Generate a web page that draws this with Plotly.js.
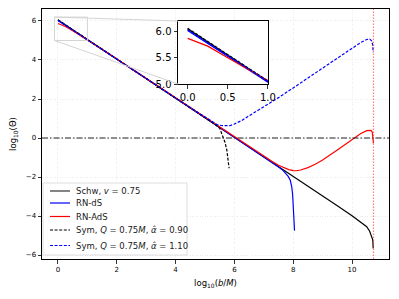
<!DOCTYPE html>
<html><head><meta charset="utf-8">
<script src="https://cdn.plot.ly/plotly-3.0.1.min.js"></script>
<style>html,body{margin:0;padding:0;background:#fff;}#chart{width:399px;height:299px;}</style>
</head><body><div id="chart"></div>
<script>
// ---- data ----
const schwX = [0, 0.5, 1, 2, 3, 4, 5, 6, 7, 8, 9, 9.5, 10, 10.3, 10.5, 10.6, 10.65, 10.68, 10.7, 10.71, 10.72];
const schwY = [6.05, 5.55, 5.05, 4.05, 3.05, 2.05, 1.05, 0.05, -0.95, -1.95, -2.96, -3.47, -3.99, -4.3, -4.55, -4.78, -4.96, -5.08, -5.2, -5.32, -5.66];

const rndsX = [0, 0.5, 1, 2, 3, 4, 5, 6, 7, 7.3, 7.5, 7.65, 7.75, 7.83, 7.9, 7.95, 7.98, 8.0, 8.02, 8.035, 8.045];
const rndsY = [6.02, 5.53, 5.04, 4.05, 3.05, 2.05, 1.05, 0.05, -0.96, -1.27, -1.49, -1.66, -1.81, -1.97, -2.17, -2.5, -2.9, -3.4, -4.0, -4.4, -4.75];

const radsX = [0, 0.1, 0.25, 0.5, 0.75, 1.0, 1.5, 2, 3, 4, 5, 6, 7, 7.3, 7.5, 7.7, 7.85, 8.0, 8.1, 8.25, 8.5, 8.75, 9.0, 9.5, 10.0, 10.3, 10.5, 10.6, 10.65, 10.69, 10.72, 10.73];
const radsY = [5.87, 5.81, 5.72, 5.50, 5.27, 5.05, 4.55, 4.05, 3.05, 2.05, 1.05, 0.05, -0.94, -1.22, -1.40, -1.54, -1.62, -1.67, -1.68, -1.64, -1.52, -1.35, -1.13, -0.62, -0.07, 0.23, 0.38, 0.41, 0.39, 0.3, 0.0, -0.27];

const sym090X = [0, 0.5, 1, 2, 3, 4, 5, 5.2, 5.35, 5.5, 5.6, 5.68, 5.74, 5.79, 5.82];
const sym090Y = [6.06, 5.56, 5.06, 4.06, 3.06, 2.06, 1.05, 0.85, 0.69, 0.5, 0.15, -0.22, -0.6, -1.1, -1.55];

const sym110X = [0, 0.5, 1, 2, 3, 4, 5, 5.2, 5.4, 5.55, 5.7, 5.85, 6.0, 6.25, 6.5, 7.0, 7.5, 8.0, 8.5, 9.0, 9.5, 10.0, 10.3, 10.5, 10.6, 10.66, 10.7, 10.72];
const sym110Y = [6.03, 5.54, 5.05, 4.05, 3.05, 2.05, 1.06, 0.85, 0.69, 0.64, 0.62, 0.63, 0.72, 0.9, 1.14, 1.6, 2.07, 2.57, 3.08, 3.6, 4.1, 4.6, 4.9, 5.05, 5.07, 5.0, 4.8, 4.4];

const horizonX = 10.73;
const xTicks = [0, 2, 4, 6, 8, 10];
const yTicks = [-6, -4, -2, 0, 2, 4, 6];
const insetXTicks = [0.0, 0.5, 1.0];
const insetYTicks = [5.0, 5.5, 6.0];
const legendLabels = [
  'Schw, <i>v</i> = 0.75',
  'RN-dS',
  'RN-AdS',
  'Sym, <i>Q</i> = 0.75<i>M</i>, <i>α̂</i> = 0.90',
  'Sym, <i>Q</i> = 0.75<i>M</i>, <i>α̂</i> = 1.10'
];

// ---- styling / layout ----
const FONT = 'DejaVu Sans, Arial, sans-serif';
const M = {l: 42, r: 10, t: 9, b: 40};
const W = 399, H = 299;
const PW = W - M.l - M.r, PH = H - M.t - M.b;
const xRange = [-0.544, 11.258], yRange = [-6.205, 6.615];
const insetXRange = [-0.12, 1.0], insetYRange = [5.0, 6.2];
const insetDomX = [0.392, 0.651], insetDomY = [0.70, 0.952];

const series = [
  {x: schwX, y: schwY, color: '#000000', dash: 'solid', name: legendLabels[0]},
  {x: rndsX, y: rndsY, color: '#0000ff', dash: 'solid', name: legendLabels[1]},
  {x: radsX, y: radsY, color: '#ff0000', dash: 'solid', name: legendLabels[2]},
  {x: sym090X, y: sym090Y, color: '#000000', dash: '3px,1.6px', name: legendLabels[3]},
  {x: sym110X, y: sym110Y, color: '#0000ff', dash: '3px,1.6px', name: legendLabels[4]}
];

const traces = [];
series.forEach(s => {
  traces.push({x: s.x, y: s.y, type: 'scatter', mode: 'lines', name: s.name, showlegend: false,
    line: {color: s.color, width: 1.2, dash: s.dash}, xaxis: 'x', yaxis: 'y', hoverinfo: 'skip'});
});
series.forEach(s => {
  traces.push({x: s.x, y: s.y, type: 'scatter', mode: 'lines', name: s.name, showlegend: false,
    line: {color: s.color, width: 1.3, dash: s.dash}, xaxis: 'x2', yaxis: 'y2', hoverinfo: 'skip'});
});

const px2paperX = px => (px - M.l) / PW;
const py2paperY = py => (M.t + PH - py) / PH;
const paperToMainX = p => xRange[0] + p * (xRange[1] - xRange[0]);
const paperToMainY = p => yRange[0] + p * (yRange[1] - yRange[0]);

const shapes = [
  // zoom indicator
  {type: 'rect', xref: 'x', yref: 'y', x0: insetXRange[0], x1: insetXRange[1], y0: insetYRange[0], y1: insetYRange[1],
   line: {color: '#d4d4d4', width: 1}, layer: 'above'},
  {type: 'line', xref: 'x', yref: 'y', x0: insetXRange[0], y0: insetYRange[1],
   x1: paperToMainX(insetDomX[0]), y1: paperToMainY(insetDomY[1]), line: {color: '#d4d4d4', width: 1}, layer: 'above'},
  {type: 'line', xref: 'x', yref: 'y', x0: insetXRange[0], y0: insetYRange[0],
   x1: paperToMainX(insetDomX[0]), y1: paperToMainY(insetDomY[0]), line: {color: '#d4d4d4', width: 1}, layer: 'above'},
  // y = 0 reference
  {type: 'line', xref: 'paper', yref: 'y', x0: 0, x1: 1, y0: 0, y1: 0,
   line: {color: '#222222', width: 1, dash: '6px,2px,1.5px,2px'}, layer: 'above'},
  // horizon
  {type: 'line', xref: 'x', yref: 'paper', x0: horizonX, x1: horizonX, y0: 0, y1: 1,
   line: {color: 'rgba(255,40,40,0.6)', width: 1.2, dash: '1.5px,1.5px'}, layer: 'above'}
];

// manual legend (matplotlib-like compact box)
const legBox = {l: 43, r: 187, t: 183, b: 255};
const legRows = [191, 203, 216.5, 230, 245.5];
shapes.push({type: 'rect', xref: 'paper', yref: 'paper',
  x0: px2paperX(legBox.l), x1: px2paperX(legBox.r), y0: py2paperY(legBox.b), y1: py2paperY(legBox.t),
  fillcolor: 'rgba(255,255,255,0.85)', line: {color: '#d6d6d6', width: 0.8}, layer: 'above'});
const annotations = [];
series.forEach((s, i) => {
  shapes.push({type: 'line', xref: 'paper', yref: 'paper',
    x0: px2paperX(50), x1: px2paperX(70), y0: py2paperY(legRows[i]), y1: py2paperY(legRows[i]),
    line: {color: i === 0 ? '#333333' : s.color, width: 1.2, dash: s.dash}, layer: 'above'});
  annotations.push({xref: 'paper', yref: 'paper', x: px2paperX(74), y: py2paperY(legRows[i]),
    xanchor: 'left', yanchor: 'middle', showarrow: false, text: s.name,
    font: {family: FONT, size: 8.5, color: '#1a1a1a'}});
});

const axCommon = {
  showline: true, linecolor: '#000', linewidth: 1, mirror: true,
  ticks: 'outside', ticklen: 3.5, tickwidth: 0.8, tickcolor: '#000',
  zeroline: false, tickmode: 'array', fixedrange: true
};

const layout = {
  width: W, height: H, margin: M,
  paper_bgcolor: '#ffffff', plot_bgcolor: '#ffffff',
  showlegend: false,
  font: {family: FONT, color: '#000'},
  xaxis: Object.assign({}, axCommon, {
    domain: [0, 1], anchor: 'y', range: xRange, tickvals: xTicks,
    showgrid: true, gridcolor: '#e6e6e6', gridwidth: 0.8, griddash: '1px,1.5px',
    tickfont: {family: FONT, size: 7, color: '#000'},
    title: {text: 'log<sub>10</sub>(<i>b</i>/<i>M</i>)', font: {family: FONT, size: 8.5, color: '#000'}, standoff: 7}
  }),
  yaxis: Object.assign({}, axCommon, {
    domain: [0, 1], anchor: 'x', range: yRange, tickvals: yTicks,
    showgrid: true, gridcolor: '#e6e6e6', gridwidth: 0.8, griddash: '1px,1.5px',
    tickfont: {family: FONT, size: 7, color: '#000'},
    title: {text: 'log<sub>10</sub>(Θ)', font: {family: FONT, size: 8.5, color: '#000'}, standoff: 7}
  }),
  xaxis2: Object.assign({}, axCommon, {
    domain: insetDomX, anchor: 'y2', range: insetXRange, tickvals: insetXTicks, tickformat: '.1f',
    showgrid: false, tickfont: {family: FONT, size: 10, color: '#000'}
  }),
  yaxis2: Object.assign({}, axCommon, {
    domain: insetDomY, anchor: 'x2', range: insetYRange, tickvals: insetYTicks, tickformat: '.1f',
    showgrid: false, tickfont: {family: FONT, size: 10, color: '#000'}
  }),
  shapes: shapes,
  annotations: annotations
};

Plotly.newPlot('chart', traces, layout, {displayModeBar: false, staticPlot: true});
</script>
</body></html>
